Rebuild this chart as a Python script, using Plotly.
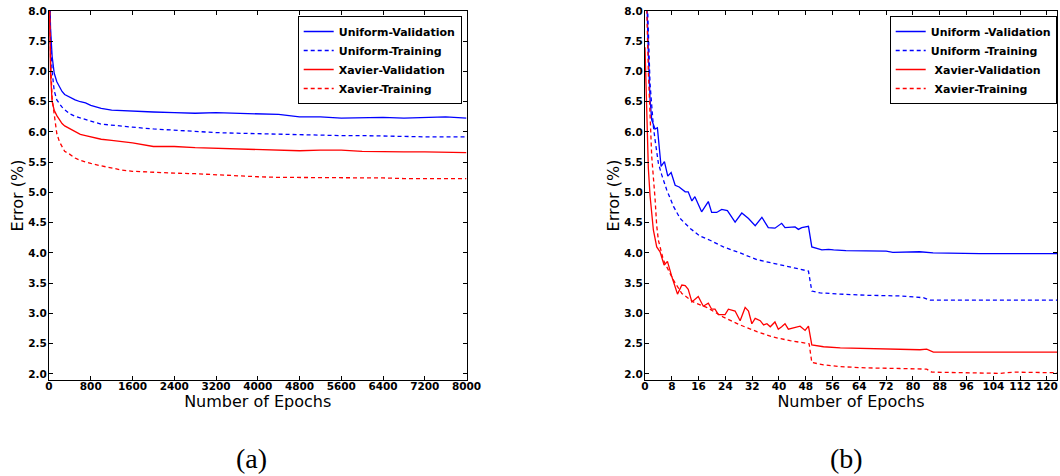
import plotly.graph_objects as go

# ---------------- Panel (a): long training run ----------------
a_epochs = [0, 30, 60, 100, 150, 200, 250, 300, 400, 500, 600, 700, 800, 1000, 1200, 1400, 1600,
            2000, 2400, 2800, 3200, 3600, 4000, 4400, 4800, 5200, 5600, 6000, 6400, 6800, 7200, 7600, 8000]
a_uniform_val = [8.8, 7.7, 7.25, 6.97, 6.83, 6.74, 6.67, 6.62, 6.57, 6.53, 6.50, 6.48, 6.44, 6.39, 6.36, 6.35, 6.34,
                 6.33, 6.32, 6.31, 6.32, 6.31, 6.30, 6.29, 6.25, 6.25, 6.23, 6.24, 6.24, 6.23, 6.24, 6.25, 6.23]
a_uniform_train = [9.2, 7.5, 7.0, 6.68, 6.53, 6.46, 6.41, 6.37, 6.30, 6.26, 6.23, 6.20, 6.18, 6.13, 6.11, 6.10, 6.08,
                   6.05, 6.03, 6.00, 5.99, 5.98, 5.97, 5.97, 5.96, 5.95, 5.94, 5.94, 5.93, 5.93, 5.92, 5.92, 5.92]
a_xavier_val = [8.5, 6.95, 6.5, 6.36, 6.27, 6.20, 6.14, 6.10, 6.05, 6.00, 5.96, 5.94, 5.92, 5.88, 5.86, 5.84, 5.82,
                5.76, 5.76, 5.74, 5.73, 5.71, 5.71, 5.70, 5.69, 5.70, 5.70, 5.68, 5.67, 5.67, 5.67, 5.67, 5.66]
a_xavier_train = [8.8, 7.2, 6.55, 6.25, 5.97, 5.84, 5.76, 5.68, 5.63, 5.57, 5.53, 5.50, 5.48, 5.44, 5.40, 5.37, 5.35,
                  5.33, 5.32, 5.31, 5.29, 5.27, 5.26, 5.25, 5.25, 5.24, 5.24, 5.24, 5.24, 5.23, 5.23, 5.23, 5.23]

# ---------------- Panel (b): short run with LR drop ----------------
b_uv_x = [0, 0.5, 1, 1.5, 2, 3, 3.7, 4.8, 5.8, 6.8, 7.8, 9, 10.2, 12, 12.9, 14, 14.9, 16.9, 18.9, 19.9,
          21.4, 22.9, 24.6, 26.9, 28.9, 30.9, 32.9, 34.9, 36.8, 38.8, 40.8, 41.8, 44.8, 45.8, 46.8,
          48.8, 49.8, 52.8, 54.8, 56.3, 60, 66, 72, 74, 82, 86, 94, 100, 110, 123]
b_uv_y = [8.6, 8.3, 7.3, 6.55, 6.2, 6.05, 6.07, 5.43, 5.51, 5.27, 5.33, 5.12, 5.09, 5.01, 5.01, 4.86, 4.93, 4.68, 4.85, 4.67,
          4.67, 4.72, 4.70, 4.51, 4.66, 4.57, 4.45, 4.59, 4.42, 4.41, 4.49, 4.42, 4.43, 4.39, 4.42,
          4.44, 4.10, 4.05, 4.06, 4.05, 4.04, 4.03, 4.03, 4.01, 4.02, 4.0, 3.99, 3.99, 3.99, 3.99]

b_ut_x = [0, 0.8, 1.5, 2, 2.5, 3, 4, 5, 6.5, 8.5, 10.5, 13.4, 16.4, 19.4, 23.4, 28.4, 33.4, 38.3, 43.3, 48.3,
          48.8, 49.8, 52.3, 58.3, 66.2, 76.1, 83.1, 85.1, 96, 110, 123]
b_ut_y = [9.0, 8.0, 6.8, 6.36, 6.09, 5.87, 5.48, 5.29, 5.04, 4.77, 4.57, 4.41, 4.28, 4.21, 4.10, 4.0, 3.89, 3.83, 3.77, 3.71,
          3.70, 3.37, 3.34, 3.32, 3.30, 3.29, 3.26, 3.22, 3.22, 3.21, 3.22]

b_xv_x = [0, 0.5, 1, 1.5, 2, 2.5, 3.5, 4.5, 5.7, 6.7, 8.0, 9.7, 11.0, 12.0, 12.9, 14.0, 15.9, 17.4, 18.9, 19.9,
          20.9, 21.9, 23.9, 24.9, 26.9, 28.4, 29.9, 30.9, 31.9, 32.9, 34.4, 35.4, 36.4, 37.4, 38.8,
          39.8, 40.8, 41.8, 42.8, 44.3, 46.3, 47.8, 48.8, 49.8, 53.3, 58.3, 66.2, 76.1, 82.1, 84.1,
          86.1, 96, 110, 123]
b_xv_y = [7.4, 6.3, 5.4, 4.95, 4.65, 4.38, 4.10, 4.02, 3.80, 3.86, 3.61, 3.32, 3.47, 3.46, 3.40, 3.19, 3.28, 3.12, 3.17, 3.07,
          3.07, 2.98, 2.98, 3.07, 3.04, 2.88, 3.10, 3.04, 2.83, 2.92, 2.88, 2.81, 2.83, 2.78, 2.86,
          2.74, 2.78, 2.83, 2.74, 2.76, 2.79, 2.72, 2.79, 2.48, 2.45, 2.43, 2.42, 2.41, 2.40, 2.41,
          2.36, 2.36, 2.36, 2.36]

b_xt_x = [0, 0.5, 1, 1.5, 2, 3, 3.5, 4, 5.5, 8.5, 11.0, 14.4, 18.4, 23.4, 28.4, 33.4, 38.3, 43.3, 48.3, 49.0,
          49.8, 53.3, 58.3, 66.2, 76.1, 84.1, 85.6, 96, 106, 110, 123]
b_xt_y = [8.6, 8.1, 7.0, 6.3, 5.6, 4.9, 4.45, 4.21, 3.88, 3.55, 3.33, 3.19, 3.10, 2.94, 2.81, 2.70, 2.61, 2.55, 2.51, 2.50,
          2.19, 2.15, 2.12, 2.10, 2.09, 2.08, 2.03, 2.02, 2.01, 2.03, 2.02]

names_a = ["Uniform-Validation", "Uniform-Training", "Xavier-Validation", "Xavier-Training"]
names_b = ["Uniform -Validation", "Uniform -Training", "\u00a0Xavier-Validation", "\u00a0Xavier-Training"]

BLUE = "#0000ff"
RED = "#ff0000"
DASH = "4px,3px"
FONT = "DejaVu Sans"

fig = go.Figure()

series_a = [(a_uniform_val, BLUE, "solid"), (a_uniform_train, BLUE, DASH),
            (a_xavier_val, RED, "solid"), (a_xavier_train, RED, DASH)]
for name, (ys, col, dash) in zip(names_a, series_a):
    fig.add_trace(go.Scatter(x=a_epochs, y=ys, mode="lines", name=name,
                             line=dict(color=col, width=1.3, dash=dash),
                             xaxis="x", yaxis="y", legend="legend"))

series_b = [(b_uv_x, b_uv_y, BLUE, "solid"), (b_ut_x, b_ut_y, BLUE, DASH),
            (b_xv_x, b_xv_y, RED, "solid"), (b_xt_x, b_xt_y, RED, DASH)]
for name, (xs, ys, col, dash) in zip(names_b, series_b):
    fig.add_trace(go.Scatter(x=xs, y=ys, mode="lines", name=name,
                             line=dict(color=col, width=1.3, dash=dash),
                             xaxis="x2", yaxis="y2", legend="legend2"))

W, H = 1060, 476
ML, MR, MT, MB = 49, 3, 11, 96
PW = W - ML - MR
PH = H - MT - MB

def px_x(p):
    return (p - ML) / PW

def px_y(p):
    return (H - MB - p) / PH

tickfont = dict(family=FONT, size=10.5, color="black", weight="bold")
titlefont = dict(family=FONT, size=16, color="black")

common_axis = dict(showline=True, linecolor="black", linewidth=1, mirror="ticks",
                   ticks="inside", ticklen=4, tickcolor="black", tickwidth=1,
                   showgrid=False, zeroline=False, tickfont=tickfont, automargin=True)

yax = dict(range=[1.9, 8.0], dtick=0.5, tick0=2.0, tickformat=".1f", ticklabelstandoff=-1,
           title=dict(text="Error (%)", font=titlefont, standoff=0), **common_axis)

xtitle = dict(text="Number of Epochs", font=titlefont, standoff=2)

legend_common = dict(bgcolor="white", bordercolor="black", borderwidth=1,
                     font=dict(family=FONT, size=11, color="black", weight="bold"),
                     xanchor="right", yanchor="top", tracegroupgap=0)

serif = dict(family="Liberation Serif, DejaVu Serif, serif", size=28, color="black")

fig.update_layout(
    width=W, height=H, autosize=False,
    margin=dict(l=ML, r=MR, t=MT, b=MB, autoexpand=False),
    paper_bgcolor="white", plot_bgcolor="white",
    font=dict(family=FONT, color="black"),
    xaxis=dict(domain=[0, px_x(466.5)], range=[0, 8000], tick0=0, dtick=800,
               ticklabelstandoff=-4, title=xtitle, anchor="y", **common_axis),
    yaxis=dict(domain=[0, 1], anchor="x", **yax),
    xaxis2=dict(domain=[px_x(645), 1], range=[0, 123], tick0=0, dtick=8,
                ticklabelstandoff=-4, title=xtitle, anchor="y2", **common_axis),
    yaxis2=dict(domain=[0, 1], anchor="x2", **yax),
    legend=dict(x=px_x(461.7), y=px_y(16), **legend_common),
    legend2=dict(x=px_x(1056.7), y=px_y(16), **legend_common),
    showlegend=True,
    annotations=[
        dict(text="(a)", x=px_x(251), y=px_y(458), xref="paper", yref="paper",
             showarrow=False, font=serif, xanchor="center", yanchor="middle"),
        dict(text="(b)", x=px_x(846.7), y=px_y(458), xref="paper", yref="paper",
             showarrow=False, font=serif, xanchor="center", yanchor="middle"),
    ],
)

fig.write_html("out.html", config={"responsive": False})
